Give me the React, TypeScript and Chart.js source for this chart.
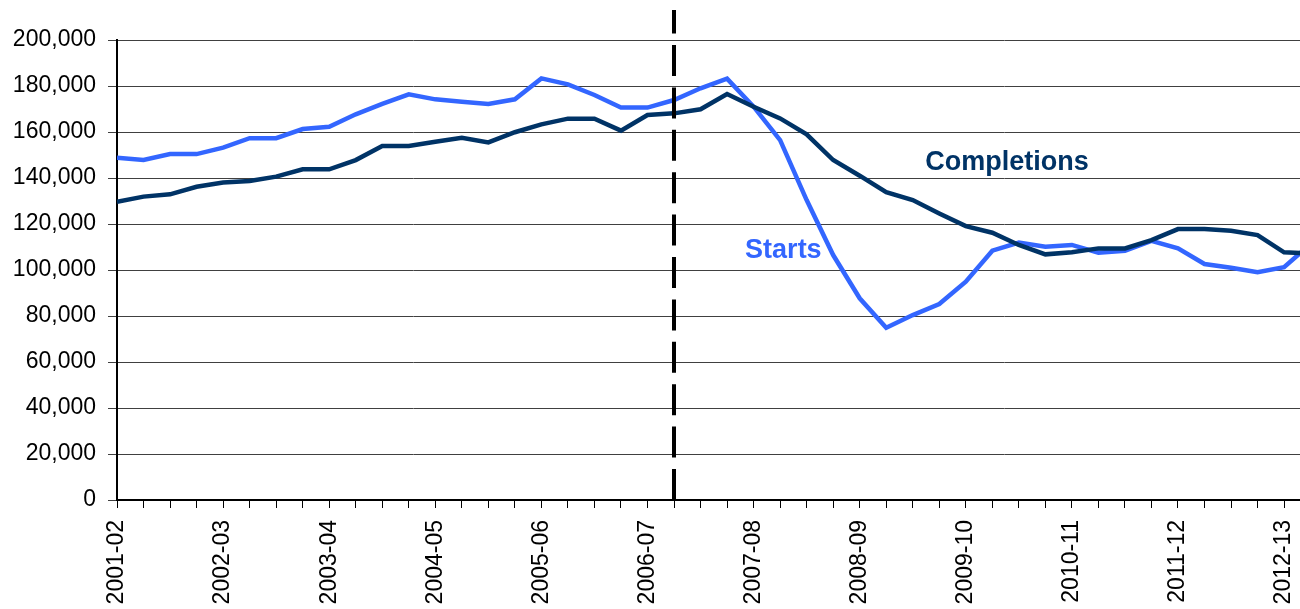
import React, { useEffect, useRef } from "react";
import { Chart, registerables } from "chart.js";

Chart.register(...registerables);

const fiscalYears = [
  "2001-02", "2002-03", "2003-04", "2004-05", "2005-06", "2006-07",
  "2007-08", "2008-09", "2009-10", "2010-11", "2011-12", "2012-13",
];
const quarterNames = ["Q1", "Q2", "Q3", "Q4"];
const periodLabels = fiscalYears
  .flatMap((y) => quarterNames.map((q) => `${y} ${q}`))
  .slice(0, 46);

const startsValues = [
  148800, 147800, 150400, 150400, 153200, 157300, 157300, 161300,
  162300, 167700, 172200, 176400, 174200, 173200, 172200, 174200,
  183300, 180700, 176100, 170600, 170600, 173900, 179000, 183200,
  171000, 156500, 130400, 106500, 87700, 74900, 80400, 85200,
  94900, 108400, 111900, 110100, 110900, 107500, 108400, 112700,
  109400, 102600, 101000, 99000, 101200, 111300,
];

const completionsValues = [
  129700, 131900, 132900, 136200, 138000, 138700, 140600, 143800,
  143800, 147800, 153900, 153900, 155800, 157500, 155500, 159900,
  163300, 165800, 165800, 160600, 167400, 168100, 169900, 176500,
  171000, 165900, 159000, 147800, 141000, 133800, 130400, 124600,
  119100, 116200, 110900, 106800, 107700, 109400, 109400, 113000,
  117800, 117800, 117100, 115200, 107700, 107200,
];

const markerPeriodIndex = 21; // dashed vertical divider
const seriesNames = ["Starts", "Completions"];
const seriesColors = ["#3366FF", "#003366"];
// annotation anchors in data space: [x index, y value]
const annotationAnchors = [
  [23.68, 105100],
  [30.47, 143500],
];

const FONT = '"Liberation Sans", Arial, Helvetica, sans-serif';

export default function App() {
  const canvasRef = useRef<HTMLCanvasElement | null>(null);

  useEffect(() => {
    if (!canvasRef.current) return;

    const overlay = {
      id: "overlay",
      afterDatasetsDraw(chart: any) {
        const { ctx, scales } = chart;
        const xs = scales.x;
        const ys = scales.y;
        const bottom = chart.chartArea.bottom;
        const px = Math.round(xs.getPixelForValue(markerPeriodIndex));
        ctx.save();
        ctx.strokeStyle = "#000000";
        ctx.lineWidth = 4;
        ctx.setLineDash([31, 11.4]);
        ctx.beginPath();
        ctx.moveTo(px, bottom);
        ctx.lineTo(px, 10);
        ctx.stroke();
        ctx.setLineDash([]);

        ctx.font = `bold 27px ${FONT}`;
        ctx.textBaseline = "alphabetic";
        ctx.textAlign = "left";
        seriesNames.forEach((name, i) => {
          const [ax, ay] = annotationAnchors[i];
          ctx.fillStyle = seriesColors[i];
          ctx.fillText(name, xs.getPixelForValue(ax), ys.getPixelForValue(ay));
        });
        ctx.restore();
      },
    };

    const chart = new Chart(canvasRef.current, {
      type: "line",
      data: {
        labels: periodLabels,
        datasets: [
          {
            label: "Completions",
            data: completionsValues.map((v, i) => ({ x: i, y: v })),
            borderColor: seriesColors[1],
            backgroundColor: seriesColors[1],
            borderWidth: 4.5,
            pointRadius: 0,
            tension: 0,
          },
          {
            label: "Starts",
            data: startsValues.map((v, i) => ({ x: i, y: v })),
            borderColor: seriesColors[0],
            backgroundColor: seriesColors[0],
            borderWidth: 4.5,
            pointRadius: 0,
            tension: 0,
          },
        ],
      },
      options: {
        responsive: false,
        animation: false,
        layout: { padding: { top: 40, right: 0, bottom: 0, left: 0 } },
        plugins: {
          legend: { display: false },
          tooltip: { enabled: false },
        },
        scales: {
          x: {
            type: "linear",
            min: 0,
            max: 44.6,
            afterBuildTicks: (scale: any) => {
              scale.ticks = periodLabels.slice(0, 45).map((_, i) => ({ value: i }));
            },
            afterFit: (scale: any) => {
              scale.paddingLeft = 0;
              scale.paddingRight = 0;
              scale.height = 109;
            },
            grid: {
              drawOnChartArea: false,
              drawTicks: true,
              tickLength: 8,
              color: "#000000",
              lineWidth: 1,
            },
            border: { color: "#000000", width: 2 },
            ticks: {
              autoSkip: false,
              minRotation: 90,
              maxRotation: 90,
              padding: 12,
              color: "#000000",
              font: { family: FONT, size: 23 },
              callback: (value: any) => {
                const i = Number(value);
                return i % 4 === 0 ? fiscalYears[i / 4] : "";
              },
            },
          },
          y: {
            min: 0,
            max: 200000,
            afterFit: (scale: any) => {
              scale.width = 117;
            },
            grid: {
              color: "#404040",
              lineWidth: 1,
              drawTicks: true,
              tickLength: 9,
            },
            border: { color: "#000000", width: 2 },
            ticks: {
              stepSize: 20000,
              padding: 12,
              color: "#000000",
              font: { family: FONT, size: 23 },
              callback: (value: any) => Number(value).toLocaleString("en-US"),
            },
          },
        },
      },
      plugins: [overlay],
    });

    return () => chart.destroy();
  }, []);

  return (
    <div
      style={{
        position: "absolute",
        left: 0,
        top: 0,
        width: 1300,
        height: 609,
        overflow: "hidden",
        background: "#ffffff",
      }}
    >
      <canvas ref={canvasRef} width={1300} height={609} style={{ display: "block" }} />
    </div>
  );
}
